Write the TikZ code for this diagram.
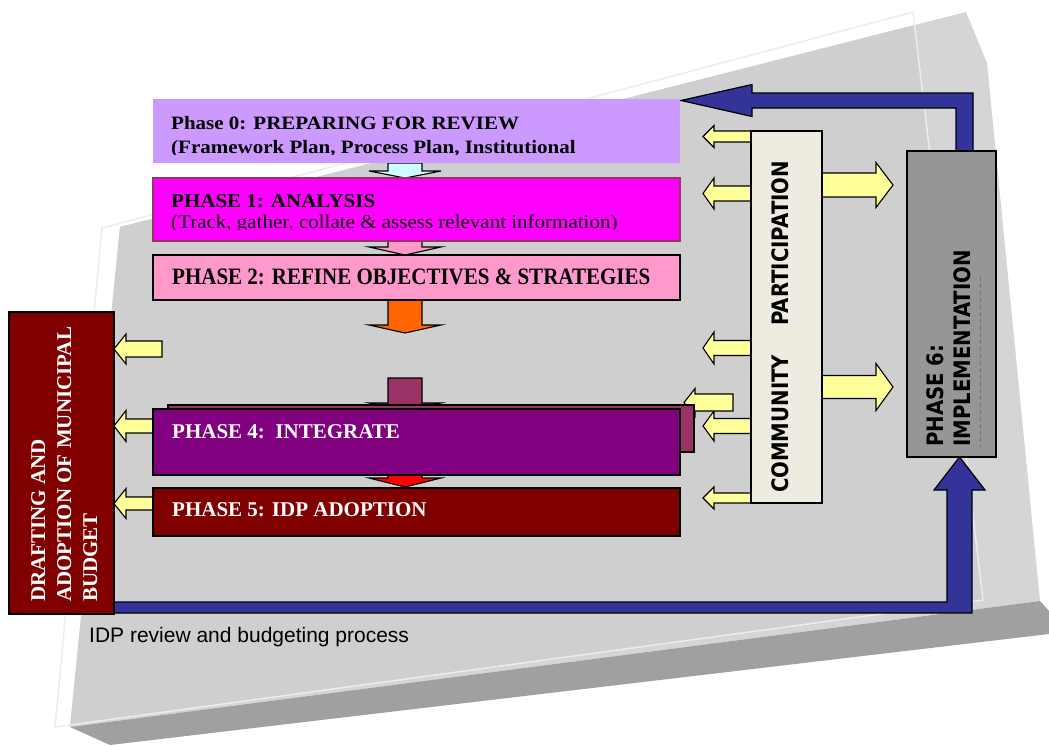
\documentclass[tikz,border=0pt]{standalone}
\usepackage{fontspec}
\setmainfont{Liberation Serif}
\newfontfamily\vfont{DejaVu Sans}
\newfontfamily\afont{Liberation Sans}
\usetikzlibrary{calc}
\pgfdeclarelayer{slab}
\pgfdeclarelayer{arrows}
\pgfsetlayers{slab,arrows,main}
\definecolor{lav}{HTML}{CC99FF}
\definecolor{mag}{HTML}{FF00FF}
\definecolor{pnk}{HTML}{FF99CC}
\definecolor{org}{HTML}{FF6600}
\definecolor{cyn}{HTML}{CCFFFF}
\definecolor{plum}{HTML}{993366}
\definecolor{purp}{HTML}{800080}
\definecolor{rd}{HTML}{FF0000}
\definecolor{maroon}{HTML}{800000}
\definecolor{cream}{HTML}{EEECE1}
\definecolor{gbox}{HTML}{969696}
\definecolor{navy}{HTML}{333399}
\definecolor{yel}{HTML}{FFFF99}
\definecolor{facel}{HTML}{D5D5D5}
\definecolor{faced}{HTML}{CFCFCF}
\definecolor{bandc}{HTML}{A0A0A0}
\definecolor{edgew}{HTML}{ECECEC}
\newcommand\tsz{\fontsize{21}{24}\selectfont}
\newcommand\vsz{\fontsize{19.7}{24}\selectfont}
% block arrow: #1 style, #2 start, #3 tip, #4 shaft half, #5 head half, #6 head length
\newcommand\barrow[6]{%
  \coordinate (ba-s) at #2;
  \coordinate (ba-t) at #3;
  \coordinate (ba-h) at ($(ba-t)!#6!(ba-s)$);
  \draw[#1] ($(ba-s)!#4!90:(ba-t)$) -- ($(ba-h)!#4!90:(ba-t)$) -- ($(ba-h)!#5!90:(ba-t)$)
    -- (ba-t) -- ($(ba-h)!#5!-90:(ba-t)$) -- ($(ba-h)!#4!-90:(ba-t)$)
    -- ($(ba-s)!#4!-90:(ba-t)$) -- cycle;
}
\begin{document}
\begin{tikzpicture}[x=1pt,y=-1pt,
  box/.style={draw=black, line width=1.1pt, inner sep=0pt, outer sep=0pt, anchor=north west},
  arr/.style={draw=black, line width=1.1pt, line join=miter, fill=#1},
  blue/.style={draw=black, line width=1.2pt, line join=miter, fill=navy},
  ttext/.style={anchor=base west, inner sep=0pt, font=\tsz\bfseries},
  vtext/.style={anchor=base west, inner sep=0pt, rotate=90, font=\vfont\vsz\bfseries}]
\useasboundingbox (0,0) rectangle (1049,745);

% ---------- background slab ----------
\begin{pgfonlayer}{slab}
\fill[facel] (120,227) -- (966,12) -- (987,63) -- (1040,601) -- (70,727) -- cycle;
\begin{scope}
\clip (120,227) -- (966,12) -- (987,63) -- (1040,601) -- (70,727) -- cycle;
\fill[faced] (102,228) -- (913,12) -- (983,600) -- (55,727) -- cycle;
\end{scope}
\draw[edgew, line width=1.5pt] (102,228) -- (913,12) -- (983,600) -- (55,727) -- cycle;
\fill[bandc] (70,727) -- (1040,601) -- (1049,611) -- (1049,634) -- (110,745) -- cycle;
\end{pgfonlayer}

% ---------- boxes ----------
\node[box, draw=none, fill=lav, minimum width=527pt, minimum height=64pt] (p0) at (153,99) {};
\node[box, draw=plum, fill=mag, minimum width=527pt, minimum height=63pt] (p1) at (153,178) {};
\node[box, fill=pnk, minimum width=527pt, minimum height=45pt] (p2) at (153,255) {};
\node[box, fill=plum, minimum width=526pt, minimum height=47pt] (s4) at (168,405) {};
\node[box, fill=purp, minimum width=527pt, minimum height=66pt] (p4) at (153,409) {};
\node[box, fill=maroon, minimum width=527pt, minimum height=48pt] (p5) at (153,488) {};
\node[box, fill=maroon, minimum width=105pt, minimum height=302pt] (dr) at (9,312) {};
\node[box, fill=cream, minimum width=71pt, minimum height=372pt] (cp) at (751,131) {};
\node[box, fill=gbox, minimum width=89pt, minimum height=306pt] (p6) at (907,151) {};

% ---------- arrows ----------
\begin{pgfonlayer}{arrows}
% blue loop
\draw[blue] (956,0 |- p6.north) -- (956,108) -- (752,108) -- (752,116.5)
  -- ($(p0.east |- 0,100.5)+(1,0)$) -- (752,84.5) -- (752,93) -- (973,93)
  -- (973,0 |- p6.north) -- cycle;
\draw[blue] (dr.east |- 0,602) -- (947,602) -- (947,490) -- (934,490)
  -- (959.5,0 |- p6.south) -- (985,490) -- (972,490) -- (972,613)
  -- (dr.east |- 0,613) -- cycle;
% down arrows
\barrow{arr=cyn}{(405,0 |- p0.south)}{(405,0 |- p1.north)}{17pt}{36pt}{7pt}
\barrow{arr=pnk}{(405,0 |- p1.south)}{(405,0 |- p2.north)}{17pt}{36pt}{8pt}
\barrow{arr=org}{(405,0 |- p2.south)}{($(405,0 |- p2.south)+(0,33)$)}{17pt}{36pt}{8pt}
\coordinate (pl) at (405,378);
\barrow{arr=plum}{(pl)}{($(pl)+(0,33)$)}{17pt}{36pt}{8pt}
\barrow{arr=rd}{($(405,0 |- p4.south)+(0,-6)$)}{($(405,0 |- p5.north)+(0,-1)$)}{17pt}{36pt}{9pt}
% community -> left
\barrow{arr=yel}{(cp.west |- 0,136.5)}{($(cp.west |- 0,136.5)+(-48,0)$)}{5.5pt}{11pt}{11pt}
\barrow{arr=yel}{(cp.west |- 0,193.5)}{($(cp.west |- 0,193.5)+(-48,0)$)}{7.5pt}{15.5pt}{11pt}
\barrow{arr=yel}{(cp.west |- 0,348)}{($(cp.west |- 0,348)+(-48,0)$)}{7.5pt}{16pt}{11pt}
\barrow{arr=yel}{(cp.west |- 0,426)}{($(cp.west |- 0,426)+(-48,0)$)}{7.5pt}{15pt}{11pt}
\barrow{arr=yel}{(cp.west |- 0,498)}{($(cp.west |- 0,498)+(-48,0)$)}{5pt}{11pt}{11pt}
\coordinate (y7) at (733,402.5);
\barrow{arr=yel}{(y7)}{($(y7)+(-49,0)$)}{8.5pt}{14pt}{11pt}
% community -> phase 6
\barrow{arr=yel}{(cp.east |- 0,185)}{($(cp.east |- 0,185)+(71,0)$)}{12pt}{22.5pt}{17pt}
\barrow{arr=yel}{(cp.east |- 0,387)}{($(cp.east |- 0,387)+(71,0)$)}{11.5pt}{23.5pt}{17pt}
% into the budget box
\coordinate (ya) at (162,349);
\barrow{arr=yel}{(ya)}{(dr.east |- ya)}{8pt}{15pt}{12pt}
\barrow{arr=yel}{(p4.west |- 0,426)}{(dr.east |- 0,426)}{7pt}{15.5pt}{12pt}
\barrow{arr=yel}{(p5.west |- 0,503.5)}{(dr.east |- 0,503.5)}{6.5pt}{15pt}{12pt}
\end{pgfonlayer}

% ---------- texts ----------
\begin{scope}
\clip (153,99) rectangle (680,154);
\node[ttext] (t0a) at (171,129) {\scalebox{1}[0.9]{Phase 0: PREPARING FOR REVIEW}};
\node[ttext] (t0b) at (171,153.5) {\scalebox{1}[0.9]{(Framework Plan, Process Plan, Institutional}};
\end{scope}
\begin{scope}
\clip (153,178) rectangle (680,229);
\node[ttext] (t1a) at (171,207) {\scalebox{1}[0.93]{PHASE 1: ANALYSIS}};
\node[ttext, font=\tsz] (t1b) at (171,228.5) {\scalebox{1}[0.93]{(Track, gather, collate \& assess relevant information)}};
\end{scope}
\node[ttext] (t2) at (172,284) {\scalebox{1}[1.12]{PHASE 2: REFINE OBJECTIVES \& STRATEGIES}};
\node[ttext, text=white] (t4) at (172,438) {PHASE 4:\ \ INTEGRATE};
\node[ttext, text=white] (t5) at (172,516) {PHASE 5: IDP ADOPTION};

\node[ttext, rotate=90, text=white] (d1) at (45,602) {DRAFTING AND};
\node[ttext, rotate=90, text=white] (d2) at (71,602) {ADOPTION OF MUNICIPAL};
\node[ttext, rotate=90, text=white] (d3) at (97,602) {BUDGET};

\node[vtext] (cpt) at (788,493) {\scalebox{1}[1.15]{COMMUNITY\hspace{29pt}PARTICIPATION}};
\node[vtext] (p6a) at (943,447) {\scalebox{1}[1.15]{PHASE 6:}};
\node[vtext] (p6b) at (970,447) {\scalebox{1}[1.15]{IMPLEMENTATION}};
\draw[black!55, line width=0.5pt, dash pattern=on 4pt off 3pt] (980,277) -- (980,447);

\node[anchor=base west, inner sep=0pt, font=\afont\fontsize{21}{24}\selectfont] (cap) at (89,642) {IDP review and budgeting process};
\end{tikzpicture}
\end{document}
